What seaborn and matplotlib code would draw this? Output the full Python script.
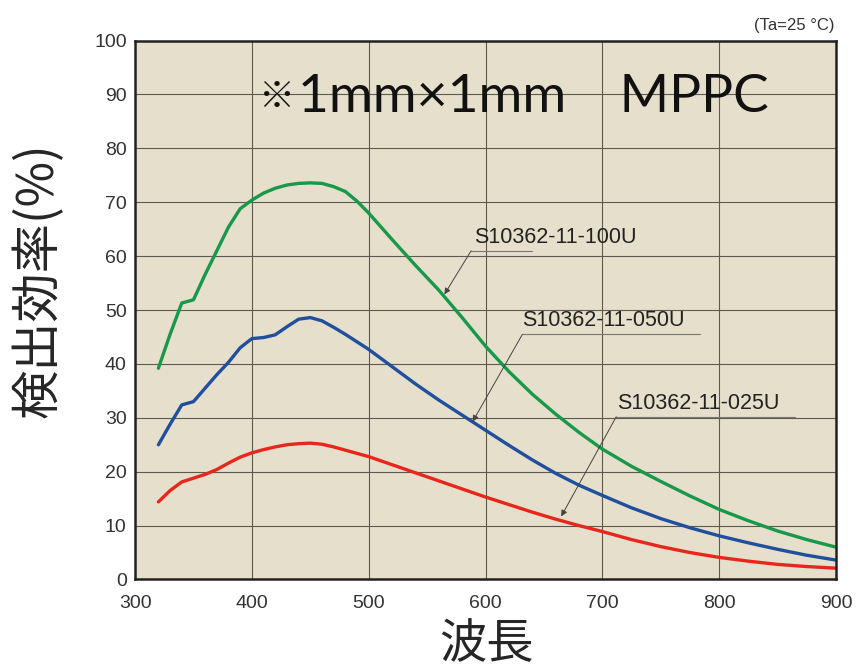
"""Photon detection efficiency vs wavelength, 1mm x 1mm MPPC"""

import pandas as pd
import matplotlib
matplotlib.use("Agg")
import matplotlib.pyplot as plt
import seaborn as sns

# wavelength grid (nm) shared by the three curves
wavelength = [320, 330, 340, 350, 360, 370, 380, 390, 400, 410, 420, 430, 440, 450,
              460, 470, 480, 490, 500, 520, 540, 560, 580, 600, 620, 640, 660, 680,
              700, 725, 750, 775, 800, 825, 850, 875, 900]

# detection efficiency (%)
pde_100u = [39.2, 45.5, 51.3, 51.9, 56.6, 61.0, 65.4, 68.8, 70.4, 71.7, 72.6, 73.2, 73.5, 73.6,
            73.5, 72.9, 72.0, 70.2, 68.0, 63.1, 58.3, 53.7, 48.6, 43.3, 38.6, 34.4, 30.7, 27.3,
            24.2, 21.0, 18.2, 15.5, 13.0, 10.9, 9.0, 7.4, 6.0]
pde_050u = [25.0, 28.8, 32.4, 33.0, 35.5, 38.0, 40.3, 43.0, 44.7, 44.9, 45.4, 46.9, 48.3, 48.6,
            48.0, 46.8, 45.5, 44.1, 42.7, 39.5, 36.3, 33.3, 30.5, 27.7, 24.9, 22.2, 19.7, 17.5,
            15.6, 13.3, 11.3, 9.6, 8.1, 6.8, 5.6, 4.5, 3.6]
pde_025u = [14.4, 16.5, 18.1, 18.8, 19.5, 20.4, 21.6, 22.7, 23.5, 24.1, 24.6, 25.0, 25.2, 25.3,
            25.1, 24.6, 24.0, 23.4, 22.8, 21.3, 19.8, 18.3, 16.8, 15.3, 13.9, 12.5, 11.2, 10.0,
            8.9, 7.4, 6.1, 5.0, 4.1, 3.4, 2.8, 2.4, 2.1]

models = ["S10362-11-100U", "S10362-11-050U", "S10362-11-025U"]
colors = ["#17984a", "#1f4f9d", "#e8261c"]

df = pd.concat([
    pd.DataFrame({"wavelength": wavelength, "pde": vals, "model": m})
    for m, vals in zip(models, [pde_100u, pde_050u, pde_025u])
])

sns.set_style("whitegrid", {"axes.facecolor": "#e5dfcb", "grid.color": "#5c5a52",
                            "axes.edgecolor": "#222222"})
plt.rcParams["font.family"] = ["Liberation Sans", "Noto Sans CJK JP", "DejaVu Sans"]
cjk = ["Noto Sans CJK JP", "DejaVu Sans"]

fig = plt.figure(figsize=(8.59, 6.70), dpi=100)
ax = fig.add_axes([0.1572, 0.1351, 0.8160, 0.8043])

sns.lineplot(data=df, x="wavelength", y="pde", hue="model", hue_order=models,
             palette=colors, linewidth=2.4, legend=False, ax=ax)

ax.set_xlim(300, 900)
ax.set_ylim(0, 100)
ax.set_xticks(range(300, 901, 100))
ax.set_yticks(range(0, 101, 10))
ax.grid(True, linewidth=0.8)
ax.tick_params(length=0, labelsize=14, labelcolor="#333333", pad=6)
ax.tick_params(axis="x", pad=11)
for s in ax.spines.values():
    s.set_linewidth(1.8)
    s.set_visible(True)

ax.set_xlabel("波長", fontsize=34, family=cjk)
ax.set_ylabel("検出効率(%)", fontsize=35.5, family=cjk)
ax.xaxis.set_label_coords(0.502, -0.077)
ax.yaxis.set_label_coords(-0.100, 0.556)

# big title inside the plot
ax.text(0.202, 0.8953, "※", transform=ax.transAxes, fontsize=26, fontweight="bold",
        family=cjk, ha="center", va="center", color="#111111")
ax.text(0.2325, 0.8675, "1mm×1mm　MPPC", transform=ax.transAxes, fontsize=38.4,
        family=["Lato", "Noto Sans CJK JP", "DejaVu Sans"], ha="left", va="baseline",
        color="#111111")
fig.text(0.972, 0.962, "(Ta=25 °C)", fontsize=12, ha="right", va="center", color="#333333")

# curve labels with leader arrows
labels = [
    # text pos, underline (x0, x1, y), arrow tip
    ((590.5, 63.4), (587.7, 639.4, 61.0), (564.8, 52.9)),
    ((631.6, 48.0), (631.6, 783.3, 45.5), (589.0, 29.3)),
    ((713.0, 32.7), (711.9, 864.7, 30.2), (664.8, 11.7)),
]
for m, (tpos, uline, tip) in zip(models, labels):
    ax.text(tpos[0], tpos[1], m, fontsize=15.5, ha="left", va="center", color="#222222")
    ax.plot([uline[0], uline[1]], [uline[2], uline[2]], color="#777777", lw=0.8)
    ax.annotate("", xy=tip, xytext=(uline[0], uline[2]),
                arrowprops=dict(arrowstyle="-|>", color="#444444", lw=0.7,
                                mutation_scale=9, shrinkA=0, shrinkB=0))

fig.savefig("out.png", dpi=100)
